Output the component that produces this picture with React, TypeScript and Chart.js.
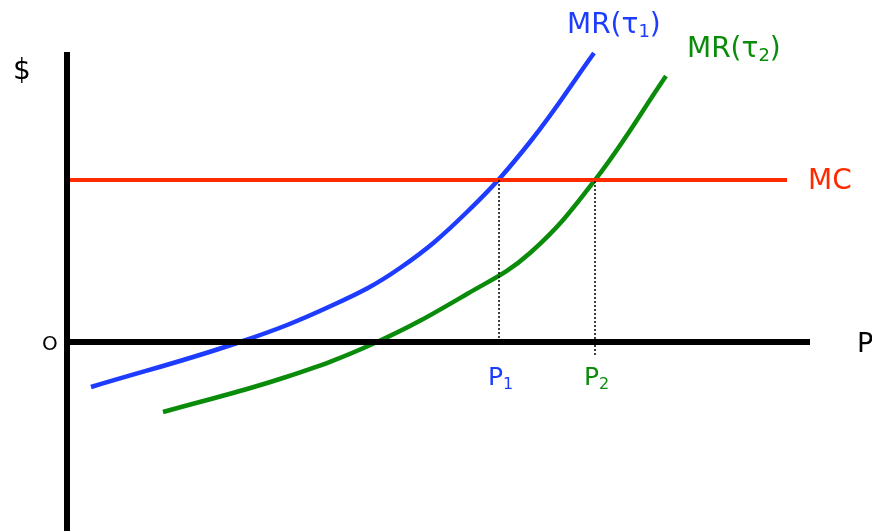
import React, { useEffect, useRef } from "react";
import { Chart, registerables } from "chart.js";

Chart.register(...registerables);

// Data units: P on x, $ on y (origin at the axes' crossing)
const mr1X = [2.4, 17.3, 26.6, 33.3, 40.0, 46.3, 52.7];
const mr1Y = [-4.5, 0, 3.7, 7.4, 13.0, 20.0, 28.9];
const mr2X = [9.6, 21.6, 31.0, 40.0, 46.3, 52.8, 59.9];
const mr2Y = [-7.0, -3.6, 0, 4.8, 8.9, 16.2, 26.6];
const mcLevel = 16.2;
const mcRange = [0, 72.0];
const p1 = 43.2;
const p2 = 52.8;
const xAxisRange = [-0.3, 74.3];
const yAxisRange = [-18.9, 29.0];
const xView = [-6.7, 80.5];
const yView = [-18.9, 34.2];

type Seg = { t: string; sub?: boolean };
const textLabels: { segs: Seg[]; x: number; y: number; color: string; size: number }[] = [
  { segs: [{ t: "MR(τ" }, { t: "1", sub: true }, { t: ")" }], x: 50.0, y: 30.9, color: "#1e3cff", size: 28 },
  { segs: [{ t: "MR(τ" }, { t: "2", sub: true }, { t: ")" }], x: 62.0, y: 28.5, color: "#0a8c0a", size: 28 },
  { segs: [{ t: "MC" }], x: 74.1, y: 15.3, color: "#ff2a00", size: 28 },
  { segs: [{ t: "P" }, { t: "1", sub: true }], x: 42.1, y: -4.3, color: "#1e3cff", size: 25 },
  { segs: [{ t: "P" }, { t: "2", sub: true }], x: 51.7, y: -4.3, color: "#0a8c0a", size: 25 },
  { segs: [{ t: "O" }], x: -2.5, y: -0.8, color: "#000000", size: 20 },
  { segs: [{ t: "P" }], x: 79.0, y: -1.0, color: "#000000", size: 27 },
  { segs: [{ t: "$" }], x: -5.4, y: 26.3, color: "#000000", size: 28 },
];

const FONT = '"DejaVu Sans", "Noto Sans", sans-serif';

const labelPlugin = {
  id: "labels",
  afterDatasetsDraw(chart: any) {
    const { ctx, scales } = chart;
    ctx.save();
    ctx.textBaseline = "alphabetic";
    ctx.textAlign = "left";
    for (const l of textLabels) {
      let px = scales.x.getPixelForValue(l.x);
      const py = scales.y.getPixelForValue(l.y);
      ctx.fillStyle = l.color;
      for (const s of l.segs) {
        const size = s.sub ? Math.round(l.size * 0.64) : l.size;
        ctx.font = `${size}px ${FONT}`;
        const dy = s.sub ? Math.round(l.size * 0.14) : 0;
        ctx.fillText(s.t, px, py + dy);
        px += ctx.measureText(s.t).width;
      }
    }
    ctx.restore();
  },
};

const pts = (xs: number[], ys: number[]) => xs.map((x, i) => ({ x, y: ys[i] }));

export default function App() {
  const ref = useRef<HTMLCanvasElement>(null);
  useEffect(() => {
    if (!ref.current) return;
    const common = { showLine: true, pointRadius: 0, clip: false as any, fill: false };
    const chart = new Chart(ref.current, {
      type: "scatter",
      data: {
        datasets: [
          {
            ...common,
            data: [{ x: 0, y: yAxisRange[0] }, { x: 0, y: yAxisRange[1] }],
            borderColor: "#000",
            borderWidth: 6,
          },
          {
            ...common,
            data: [{ x: xAxisRange[0], y: 0 }, { x: xAxisRange[1], y: 0 }],
            borderColor: "#000",
            borderWidth: 6,
          },
          {
            ...common,
            data: [{ x: p1, y: 0 }, { x: p1, y: mcLevel }],
            borderColor: "#000",
            borderWidth: 1.5,
            borderDash: [2, 2],
          },
          {
            ...common,
            data: [{ x: p2, y: -1.3 }, { x: p2, y: mcLevel }],
            borderColor: "#000",
            borderWidth: 1.5,
            borderDash: [2, 2],
          },
          {
            ...common,
            data: [{ x: mcRange[0], y: mcLevel }, { x: mcRange[1], y: mcLevel }],
            borderColor: "#ff2a00",
            borderWidth: 4,
          },
          {
            ...common,
            data: pts(mr1X, mr1Y),
            borderColor: "#1e3cff",
            borderWidth: 4.5,
            tension: 0.4,
          },
          {
            ...common,
            data: pts(mr2X, mr2Y),
            borderColor: "#0a8c0a",
            borderWidth: 4.5,
            tension: 0.4,
          },
        ],
      },
      options: {
        animation: false,
        responsive: false,
        layout: { padding: 0 },
        plugins: { legend: { display: false }, tooltip: { enabled: false } },
        scales: {
          x: { type: "linear", display: false, min: xView[0], max: xView[1] },
          y: { type: "linear", display: false, min: yView[0], max: yView[1] },
        },
      },
      plugins: [labelPlugin],
    });
    return () => chart.destroy();
  }, []);
  return (
    <div style={{ position: "fixed", left: 0, top: 0, width: 872, height: 531, background: "#fff" }}>
      <canvas ref={ref} width={872} height={531} style={{ display: "block" }} />
    </div>
  );
}
